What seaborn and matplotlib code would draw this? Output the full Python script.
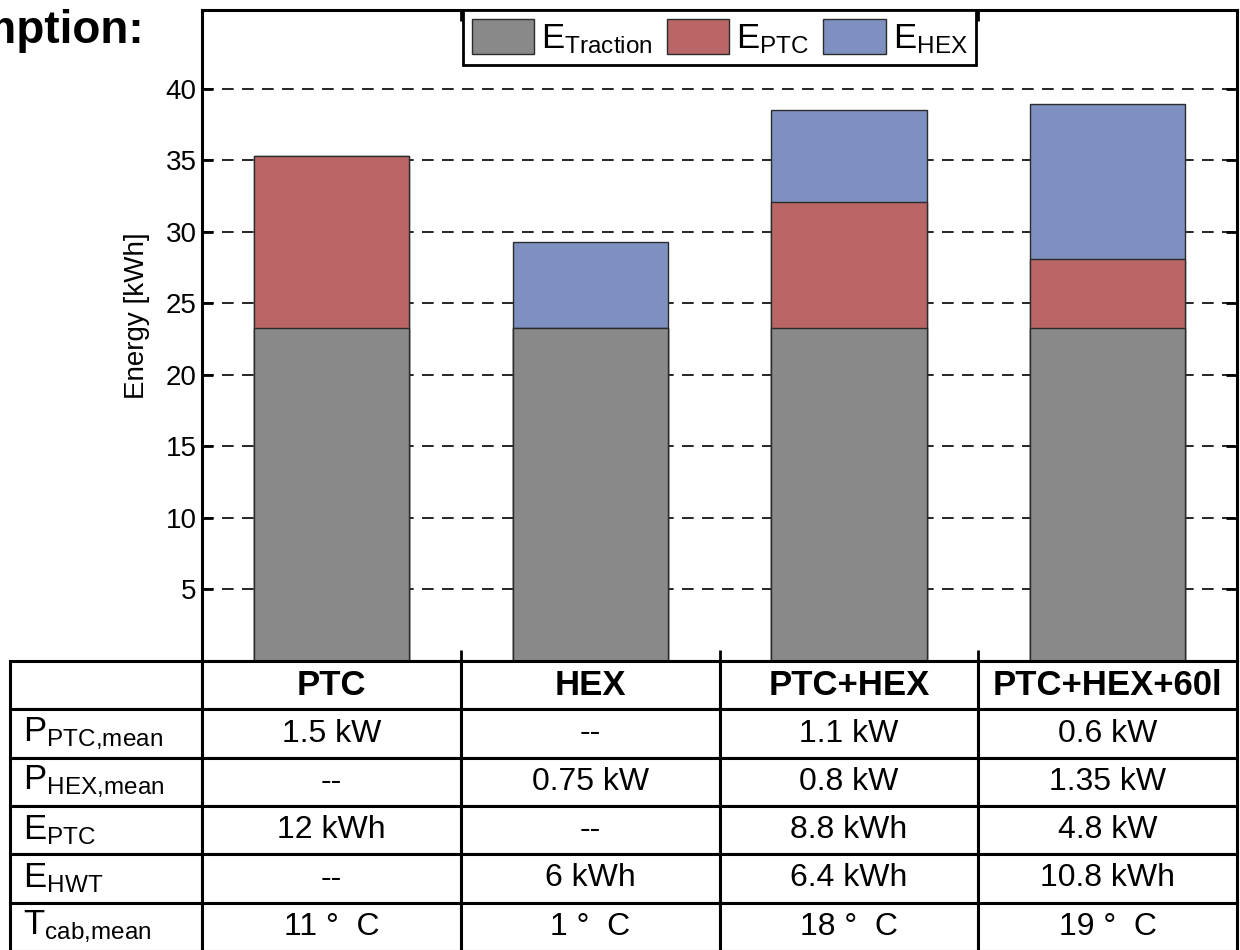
import matplotlib
matplotlib.use("Agg")
import matplotlib.pyplot as plt
from matplotlib.patches import Patch
from matplotlib.table import Table
import numpy as np
import pandas as pd
import seaborn as sns

# ---- data -------------------------------------------------------------
categories = ["PTC", "HEX", "PTC+HEX", "PTC+HEX+60l"]
e_traction = [23.3, 23.3, 23.3, 23.3]
e_ptc = [12.0, 0.0, 8.8, 4.8]
e_hex = [0.0, 6.0, 6.4, 10.8]

series_labels = [r"E$_{\mathrm{Traction}}$", r"E$_{\mathrm{PTC}}$", r"E$_{\mathrm{HEX}}$"]
series_colors = ["#898989", "#BA6667", "#7D90C0"]

y_ticks = [5, 10, 15, 20, 25, 30, 35, 40]

row_labels = [r"P$_{\mathrm{PTC{,}mean}}$", r"P$_{\mathrm{HEX{,}mean}}$",
              r"E$_{\mathrm{PTC}}$", r"E$_{\mathrm{HWT}}$", r"T$_{\mathrm{cab{,}mean}}$"]
p_ptc_mean = ["1.5 kW", "--", "1.1 kW", "0.6 kW"]
p_hex_mean = ["--", "0.75 kW", "0.8 kW", "1.35 kW"]
e_ptc_txt = ["12 kWh", "--", "8.8 kWh", "4.8 kW"]
e_hwt_txt = ["--", "6 kWh", "6.4 kWh", "10.8 kWh"]
t_cab_mean = ["11 \u00b0  C", "1 \u00b0  C", "18 \u00b0  C", "19 \u00b0  C"]

# ---- style ------------------------------------------------------------
sns.set_style("ticks")
plt.rcParams["font.family"] = ["Liberation Sans", "DejaVu Sans"]
plt.rcParams["mathtext.fontset"] = "custom"
plt.rcParams["mathtext.rm"] = "Liberation Sans"
plt.rcParams["mathtext.it"] = "Liberation Sans:italic"
plt.rcParams["mathtext.bf"] = "Liberation Sans:bold"
for key in ["text.color", "axes.labelcolor", "xtick.color", "ytick.color"]:
    plt.rcParams[key] = "black"

W, H = 1240, 950
fig = plt.figure(figsize=(W / 100, H / 100), dpi=100)

ax_left, ax_right, ax_top, ax_bottom = 202, 1237, 10, 661
ax = fig.add_axes([ax_left / W, 1 - ax_bottom / H,
                   (ax_right - ax_left) / W, (ax_bottom - ax_top) / H])

# ---- stacked bars (cumulative totals drawn from the top down) ----------
df = pd.DataFrame({"scenario": categories,
                   "traction": e_traction, "ptc": e_ptc, "hex": e_hex})
df["lvl1"] = df["traction"]
df["lvl2"] = df["traction"] + df["ptc"]
df["lvl3"] = df["lvl2"] + df["hex"]

for col, color in zip(["lvl3", "lvl2", "lvl1"], series_colors[::-1]):
    sns.barplot(data=df, x="scenario", y=col, color=color, saturation=1,
                width=0.6, edgecolor="#2b2b2b", linewidth=1.0,
                errorbar=None, ax=ax, zorder=3)

ax.set_xlim(-0.5, len(categories) - 0.5)
ax.set_ylim(0, 45.5)
ax.set_yticks(y_ticks)
ax.set_xticks(np.arange(len(categories) - 1) + 0.5)
ax.set_xticklabels([])
ax.set_xlabel("")
ax.set_ylabel("Energy [kWh]", fontsize=20)
ax.yaxis.set_label_coords(-0.05, 0.53)

ax.yaxis.grid(True, linestyle=(0, (7, 5)), color="black", linewidth=1.2)
ax.set_axisbelow(True)
for sp in ax.spines.values():
    sp.set_visible(True)
    sp.set_linewidth(2.2)
    sp.set_color("black")
ax.tick_params(axis="y", direction="in", length=8, width=2, labelsize=20,
               left=True, right=True, pad=4)
ax.tick_params(axis="x", direction="in", length=8, width=2,
               top=True, bottom=True)

handles = [Patch(facecolor=c, edgecolor="#2b2b2b", linewidth=1.0) for c in series_colors]
leg = ax.legend(handles, series_labels, ncol=3, loc="upper center",
                bbox_to_anchor=(0.5, 1.0), borderaxespad=0, fontsize=25,
                handlelength=1.8, handleheight=1.2, handletextpad=0.2,
                columnspacing=0.4, borderpad=0.25, fancybox=False,
                framealpha=1, edgecolor="black")
leg.get_frame().set_linewidth(2)
leg.set_zorder(10)

# ---- heading, partly running off the left edge -------------------------
fig.text(144 / W, 1 - 43 / H, "Energy consumption:", ha="right",
         va="baseline", fontsize=33, fontweight="bold")

# ---- table below the bars ---------------------------------------------
tab_left, tab_bottom = 10, 951
tax = fig.add_axes([tab_left / W, 1 - tab_bottom / H,
                    (ax_right - tab_left) / W, (tab_bottom - ax_bottom) / H])
tax.axis("off")

body = [p_ptc_mean, p_hex_mean, e_ptc_txt, e_hwt_txt, t_cab_mean]
first_w = (ax_left - tab_left) / (ax_right - tab_left)
other_w = (1 - first_w) / len(categories)
row_h = 1 / (len(body) + 1)

tbl = Table(tax, bbox=[0, 0, 1, 1])
tbl.add_cell(0, 0, first_w, row_h, text="", loc="center")
for j, name in enumerate(categories):
    cell = tbl.add_cell(0, j + 1, other_w, row_h, text=name, loc="center")
    cell.get_text().set_fontweight("bold")
    cell.get_text().set_fontsize(25)
for i, (lab, vals) in enumerate(zip(row_labels, body), start=1):
    cell = tbl.add_cell(i, 0, first_w, row_h, text=lab, loc="left")
    cell.PAD = 0.07
    cell.get_text().set_fontsize(25)
    for j, v in enumerate(vals):
        c = tbl.add_cell(i, j + 1, other_w, row_h, text=v, loc="center")
        c.get_text().set_fontsize(23)
tbl.auto_set_font_size(False)
for cell in tbl.get_celld().values():
    cell.set_linewidth(2.2)
    cell.set_edgecolor("black")
tax.add_table(tbl)

fig.savefig("out.png", dpi=100)
